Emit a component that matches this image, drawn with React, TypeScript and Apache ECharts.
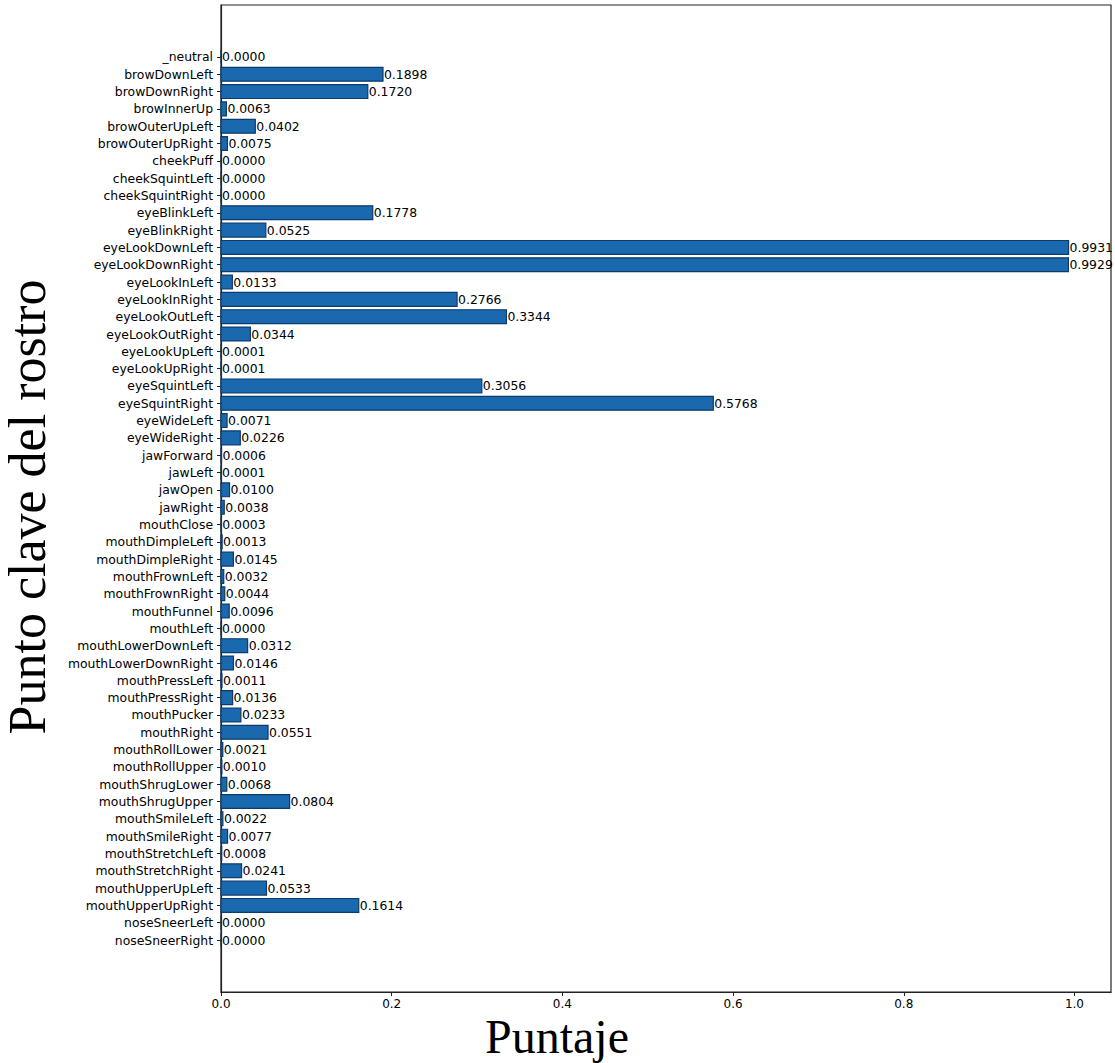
import React, { useEffect, useRef } from "react";
import * as echarts from "echarts";

const categories: string[] = [
  "_neutral", "browDownLeft", "browDownRight", "browInnerUp", "browOuterUpLeft", "browOuterUpRight",
  "cheekPuff", "cheekSquintLeft", "cheekSquintRight", "eyeBlinkLeft", "eyeBlinkRight",
  "eyeLookDownLeft", "eyeLookDownRight", "eyeLookInLeft", "eyeLookInRight", "eyeLookOutLeft",
  "eyeLookOutRight", "eyeLookUpLeft", "eyeLookUpRight", "eyeSquintLeft", "eyeSquintRight",
  "eyeWideLeft", "eyeWideRight", "jawForward", "jawLeft", "jawOpen", "jawRight", "mouthClose",
  "mouthDimpleLeft", "mouthDimpleRight", "mouthFrownLeft", "mouthFrownRight", "mouthFunnel",
  "mouthLeft", "mouthLowerDownLeft", "mouthLowerDownRight", "mouthPressLeft", "mouthPressRight",
  "mouthPucker", "mouthRight", "mouthRollLower", "mouthRollUpper", "mouthShrugLower",
  "mouthShrugUpper", "mouthSmileLeft", "mouthSmileRight", "mouthStretchLeft", "mouthStretchRight",
  "mouthUpperUpLeft", "mouthUpperUpRight", "noseSneerLeft", "noseSneerRight",
];

const scores: number[] = [
  0.0, 0.1898, 0.172, 0.0063, 0.0402, 0.0075,
  0.0, 0.0, 0.0, 0.1778, 0.0525,
  0.9931, 0.9929, 0.0133, 0.2766, 0.3344,
  0.0344, 0.0001, 0.0001, 0.3056, 0.5768,
  0.0071, 0.0226, 0.0006, 0.0001, 0.01, 0.0038, 0.0003,
  0.0013, 0.0145, 0.0032, 0.0044, 0.0096,
  0.0, 0.0312, 0.0146, 0.0011, 0.0136,
  0.0233, 0.0551, 0.0021, 0.001, 0.0068,
  0.0804, 0.0022, 0.0077, 0.0008, 0.0241,
  0.0533, 0.1614, 0.0, 0.0,
];

const xTicks: number[] = [0, 0.2, 0.4, 0.6, 0.8, 1.0];
const xTitle = "Puntaje";
const yTitle = "Punto clave del rostro";

export default function App() {
  const ref = useRef<HTMLDivElement>(null);

  useEffect(() => {
    if (!ref.current) return;
    const chart = echarts.init(ref.current, undefined, { renderer: "svg" });
    const idx = categories.map((_, i) => i);
    const labelFont = "DejaVu Sans";

    const option: any = {
      animation: false,
      backgroundColor: "#ffffff",
      grid: {
        left: 221,
        top: 5,
        width: 890,
        height: 987,
        show: true,
        borderColor: "#222",
        borderWidth: 1.2,
        backgroundColor: "transparent",
        containLabel: false,
        outerBoundsMode: "none",
      },
      xAxis: {
        type: "value",
        min: 0,
        max: 1.0428,
        position: "bottom",
        splitLine: { show: false },
        axisLine: { show: true, onZero: false, lineStyle: { color: "#222", width: 1.2 } },
        axisTick: {
          show: true,
          length: 4,
          customValues: xTicks,
          lineStyle: { color: "#222", width: 1 },
        },
        axisLabel: {
          customValues: xTicks,
          formatter: (v: number) => v.toFixed(1),
          fontFamily: labelFont,
          fontSize: 12,
          lineHeight: 12,
          color: "#000",
          margin: 6,
        },
      },
      yAxis: {
        type: "value",
        inverse: true,
        min: -3,
        max: 54,
        interval: 1,
        position: "left",
        splitLine: { show: false },
        axisLine: { show: true, onZero: false, lineStyle: { color: "#222", width: 1.2 } },
        axisTick: {
          show: true,
          length: 4,
          customValues: idx,
          lineStyle: { color: "#222", width: 1 },
        },
        axisLabel: {
          customValues: idx,
          formatter: (v: number) => {
            const k = Math.round(v);
            return k >= 0 && k < categories.length ? categories[k] : "";
          },
          fontFamily: labelFont,
          fontSize: 12.4,
          color: "#000",
          margin: 8,
        },
      },
      series: [
        {
          type: "custom",
          coordinateSystem: "cartesian2d",
          encode: { x: 0, y: 1 },
          data: scores.map((v, i) => [v, i]),
          renderItem: (params: any, api: any) => {
            const v = api.value(0);
            const i = api.value(1);
            const start = api.coord([0, i]);
            const end = api.coord([v, i]);
            const h = api.size([0, 0.8])[1];
            return {
              type: "group",
              children: [
                {
                  type: "rect",
                  shape: { x: start[0], y: start[1] - h / 2, width: end[0] - start[0], height: h },
                  style: { fill: "#1a68ad", stroke: "#0b3a6c", lineWidth: 1.2 },
                },
                {
                  type: "text",
                  x: end[0] + 1,
                  y: end[1],
                  style: {
                    text: v.toFixed(4),
                    fill: "#000",
                    font: `12.4px "${labelFont}"`,
                    align: "left",
                    verticalAlign: "middle",
                  },
                },
              ],
            };
          },
        },
      ],
      graphic: [
        {
          type: "text",
          x: 27,
          y: 507,
          rotation: Math.PI / 2,
          style: {
            text: yTitle,
            font: '52px "Liberation Serif"',
            fill: "#000",
            align: "center",
            verticalAlign: "middle",
          },
        },
        {
          type: "text",
          x: 557,
          y: 1036,
          style: {
            text: xTitle,
            font: '48px "Liberation Serif"',
            fill: "#000",
            align: "center",
            verticalAlign: "middle",
          },
        },
      ],
    };

    chart.setOption(option);
    return () => chart.dispose();
  }, []);

  return (
    <div
      ref={ref}
      style={{ position: "fixed", left: 0, top: 0, width: 1115, height: 1063, background: "#fff" }}
    />
  );
}
